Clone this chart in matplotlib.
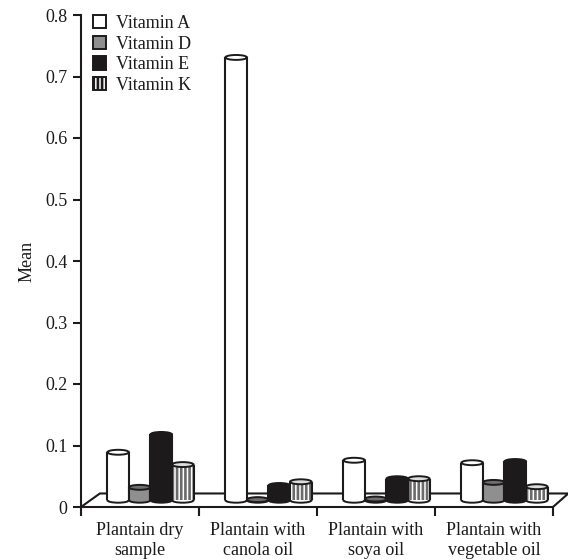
import matplotlib
matplotlib.use('Agg')
import matplotlib.pyplot as plt
from matplotlib.patches import Ellipse, Patch
import numpy as np

plt.rcParams['font.family'] = ['Liberation Serif', 'DejaVu Serif']
plt.rcParams['hatch.linewidth'] = 1.9
plt.rcParams['hatch.color'] = '#6a6a6a'

categories = ['Plantain dry\nsample', 'Plantain with\ncanola oil',
              'Plantain with\nsoya oil', 'Plantain with\nvegetable oil']
series = ['Vitamin A', 'Vitamin D', 'Vitamin E', 'Vitamin K']
vitamin_a = [0.085, 0.727, 0.072, 0.068]
vitamin_d = [0.028, 0.008, 0.009, 0.036]
vitamin_e = [0.114, 0.031, 0.042, 0.070]
vitamin_k = [0.065, 0.037, 0.042, 0.029]
values = [vitamin_a, vitamin_d, vitamin_e, vitamin_k]
yticks = [0, 0.1, 0.2, 0.3, 0.4, 0.5, 0.6, 0.7, 0.8]
ylabels = ['0', '0.1', '0.2', '0.3', '0.4', '0.5', '0.6', '0.7', '0.8']

colors = ['white', '#8f8f8f', '#1c1a1b', 'white']
top_colors = ['white', '#6e6e6e', '#1c1a1b', '#dddddd']
hatches = [None, None, None, '||||']
edge = '#1c1a1b'

W, H = 568, 560
fig = plt.figure(figsize=(W / 100, H / 100), dpi=100)
ax = fig.add_axes([81 / W, 1 - 507 / H, (553 - 81) / W, (507 - 15) / H])
ax.set_xlim(0, 4)
ax.set_ylim(0, 0.8)

# floor of the 3d box
ax.plot([0, 0.16, 4.13, 4], [0, 0.022, 0.022, 0], color=edge, lw=1.5,
        clip_on=False, zorder=1)

base = 0.011
lift = 0.004
width = 0.1825
eh = 0.008
for j in range(4):
    for i in range(4):
        xc = i + 0.315 + j * width
        top = values[j][i] + lift
        ax.add_patch(Ellipse((xc, base), width, eh, fc=colors[j], ec=edge, lw=1.4, zorder=2 + j))
        ax.bar(xc, top - base, width, bottom=base, color=colors[j], hatch=hatches[j], lw=0, zorder=2 + j)
        ax.vlines([xc - width / 2, xc + width / 2], base, top, color=edge, lw=1.5, zorder=2 + j)
        ax.add_patch(Ellipse((xc, top), width, eh, fc=top_colors[j], ec=edge, lw=1.4, zorder=2 + j))

for s in ['top', 'right']:
    ax.spines[s].set_visible(False)
for s in ['left', 'bottom']:
    ax.spines[s].set_linewidth(1.5)
    ax.spines[s].set_color(edge)

ax.set_yticks(yticks)
ax.set_yticklabels(ylabels, fontsize=13, color=edge)
ax.tick_params(axis='y', length=5.8, width=1.5, color=edge, pad=4)
ax.set_xticks(range(5))
ax.set_xticklabels([])
ax.tick_params(axis='x', length=6.5, width=1.5, color=edge)
ax.set_xticks(np.arange(4) + 0.5, minor=True)
ax.set_xticklabels(categories, minor=True, fontsize=13, color=edge, linespacing=1.25)
ax.tick_params(axis='x', which='minor', length=0, pad=10.5)
ax.set_ylabel('Mean', fontsize=13, color=edge, labelpad=6.5)

handles = [Patch(fc=colors[j], ec=edge, lw=1.4, hatch=hatches[j]) for j in range(4)]
ax.legend(handles, series, loc='upper left', bbox_to_anchor=(0.025, 1.0), frameon=False,
          fontsize=13, handlelength=0.75, handleheight=0.75, handletextpad=0.55,
          labelspacing=0.2, borderaxespad=0, borderpad=0, labelcolor=edge)

fig.savefig('out.png', dpi=100)
